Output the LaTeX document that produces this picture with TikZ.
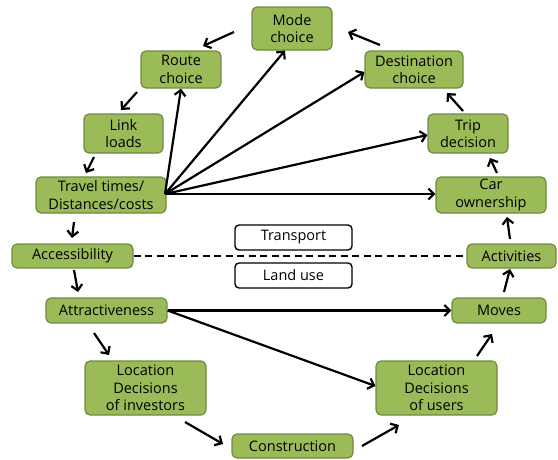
\documentclass[tikz,border=0pt]{standalone}
\usepackage{fontspec}
\setmainfont{Open Sans}
\usetikzlibrary{arrows.meta}
\definecolor{boxfill}{HTML}{9BBB59}
\definecolor{boxline}{HTML}{71893F}
\tikzset{
  gbox/.style={draw=boxline, fill=boxfill, line width=1.2pt, rounded corners=5pt,
    align=center, inner sep=0pt, font=\fontsize{14.5}{17.3}\selectfont},
  wbox/.style={draw=black, fill=white, line width=1.4pt, rounded corners=4pt,
    align=center, inner sep=0pt, font=\fontsize{14.5}{17.3}\selectfont,
    minimum width=117pt, minimum height=25pt},
  arr/.style={line width=2.2pt, -{Straight Barb[length=5.5pt,width=11pt]}},
}
\begin{document}
\begin{tikzpicture}[x=1pt,y=-1pt]
\useasboundingbox (0,0) rectangle (558,459);
% nodes
\node[gbox, minimum width=80pt, minimum height=43pt] (mode) at (292,28.5) {Mode\\choice};
\node[gbox, minimum width=80pt, minimum height=37pt] (route) at (181,69.5) {Route\\choice};
\node[gbox, minimum width=79pt, minimum height=39pt] (link) at (123.5,133.5) {Link\\loads};
\node[gbox, minimum width=130pt, minimum height=36pt] (travel) at (101,195) {Travel times/\\Distances/costs};
\node[gbox, minimum width=98pt, minimum height=37pt] (dest) at (414,69.5) {Destination\\choice};
\node[gbox, minimum width=80pt, minimum height=39pt] (trip) at (468,133.5) {Trip\\decision};
\node[gbox, minimum width=110pt, minimum height=36pt] (car) at (491,195) {Car\\ownership};
\node[gbox, minimum width=121pt, minimum height=24pt] (access) at (72.5,256) {Accessibility};
\node[gbox, minimum width=121pt, minimum height=25pt] (attr) at (106.5,310.5) {Attractiveness};
\node[gbox, minimum width=121pt, minimum height=54pt] (locinv) at (145.5,388) {Location\\Decisions\\of investors};
\node[gbox, minimum width=121pt, minimum height=24pt] (constr) at (292.5,446) {Construction};
\node[gbox, minimum width=89pt, minimum height=24pt] (activ) at (511.5,256) {Activities};
\node[gbox, minimum width=94pt, minimum height=25pt] (moves) at (499,310.5) {Moves};
\node[gbox, minimum width=121pt, minimum height=54pt] (locuser) at (436.5,388) {Location\\Decisions\\of users};
\node[wbox] (transport) at (293.5,237.5) {Transport};
\node[wbox] (landuse) at (293.5,275.5) {Land use};
% dashed divider
\draw[line width=2pt, dash pattern=on 7pt off 4.5pt] (access.east) -- (activ.west);
% floating arrow end points
\coordinate (a1) at (234,32);  \coordinate (b1) at (203,46);
\coordinate (a2) at (137,92);  \coordinate (b2) at (121,110);
\coordinate (a3) at (94,157);  \coordinate (b3) at (86,173);
\coordinate (a4) at (74,222);  \coordinate (b4) at (72,238);
\coordinate (a5) at (74,270);  \coordinate (b5) at (78,292);
\coordinate (a6) at (94,333);  \coordinate (b6) at (109,355);
\coordinate (a7) at (185,422); \coordinate (b7) at (223,444);
\coordinate (a8) at (362,446); \coordinate (b8) at (399,425);
\coordinate (a9) at (477,356); \coordinate (b9) at (492,334);
\coordinate (a10) at (504,292); \coordinate (b10) at (510,269);
\coordinate (a11) at (510,239); \coordinate (b11) at (507,217);
\coordinate (a12) at (497,173); \coordinate (b12) at (490,158);
\coordinate (a13) at (463,111); \coordinate (b13) at (447,93);
\coordinate (a14) at (380,45);  \coordinate (b14) at (348,32);
\foreach \i in {1,...,14} { \draw[arr] (a\i) -- (b\i); }
% fan from travel
\coordinate (fan) at (165,194);
\coordinate (mtip) at (285,50.5);
\draw[arr] (fan) -- (route.south);
\draw[arr] (fan) -- (mtip);
\draw[arr] (fan) -- (dest.west |- 0,72);
\draw[arr] (fan) -- (trip.west |- 0,135);
\draw[arr] (fan) -- (car.west |- 0,194);
% from attractiveness
\draw[arr] (attr.east) -- (moves.west);
\draw[arr] (attr.east) -- (locuser.west |- 0,386);
\end{tikzpicture}
\end{document}
